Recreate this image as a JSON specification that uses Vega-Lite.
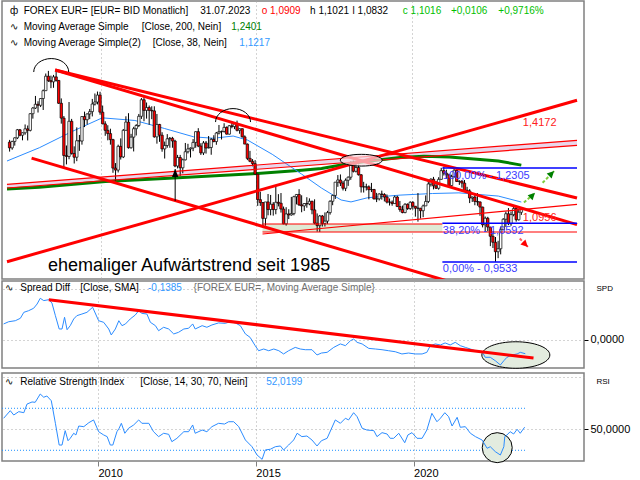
{
"$schema": "https://vega.github.io/schema/vega-lite/v6.json",
"padding": 0,
"spacing": 0,
"config": {
 "locale": {"number": {"decimal": ",", "thousands": ".", "grouping": [3], "currency": ["", " €"]}},
 "view": {"stroke": "#808080", "strokeWidth": 1.5},
 "font": "Liberation Sans",
 "axis": {"labelFont": "Liberation Sans", "labelFontSize": 11, "labelColor": "#000", "gridColor": "#a8a8a8", "gridDash": [1, 3], "gridWidth": 1, "domain": false, "tickColor": "#000"},
 "text": {"font": "Liberation Sans", "fontSize": 10, "align": "left", "baseline": "middle"}
},
"datasets": {
 "candles": [
{"t":2007.042,"o":1.32,"h":1.328,"l":1.2865,"c":1.2995},
{"t":2007.125,"o":1.2995,"h":1.325,"l":1.293,"c":1.3225},
{"t":2007.208,"o":1.3225,"h":1.3375,"l":1.3075,"c":1.3355},
{"t":2007.292,"o":1.3355,"h":1.368,"l":1.331,"c":1.365},
{"t":2007.375,"o":1.365,"h":1.368,"l":1.341,"c":1.345},
{"t":2007.458,"o":1.345,"h":1.355,"l":1.3265,"c":1.354},
{"t":2007.542,"o":1.354,"h":1.385,"l":1.347,"c":1.3685},
{"t":2007.625,"o":1.3685,"h":1.381,"l":1.326,"c":1.363},
{"t":2007.708,"o":1.363,"h":1.428,"l":1.359,"c":1.426},
{"t":2007.792,"o":1.426,"h":1.452,"l":1.407,"c":1.448},
{"t":2007.875,"o":1.448,"h":1.4965,"l":1.4445,"c":1.463},
{"t":2007.958,"o":1.463,"h":1.475,"l":1.4305,"c":1.459},
{"t":2008.042,"o":1.459,"h":1.488,"l":1.452,"c":1.486},
{"t":2008.125,"o":1.486,"h":1.523,"l":1.4405,"c":1.518},
{"t":2008.208,"o":1.518,"h":1.5905,"l":1.517,"c":1.579},
{"t":2008.292,"o":1.579,"h":1.602,"l":1.5545,"c":1.56},
{"t":2008.375,"o":1.56,"h":1.5815,"l":1.5285,"c":1.555},
{"t":2008.458,"o":1.555,"h":1.5845,"l":1.53,"c":1.576},
{"t":2008.542,"o":1.576,"h":1.604,"l":1.556,"c":1.561},
{"t":2008.625,"o":1.561,"h":1.562,"l":1.4645,"c":1.467},
{"t":2008.708,"o":1.467,"h":1.4865,"l":1.388,"c":1.409},
{"t":2008.792,"o":1.409,"h":1.417,"l":1.233,"c":1.273},
{"t":2008.875,"o":1.273,"h":1.308,"l":1.2425,"c":1.2695},
{"t":2008.958,"o":1.2695,"h":1.472,"l":1.26,"c":1.397},
{"t":2009.042,"o":1.397,"h":1.406,"l":1.276,"c":1.28},
{"t":2009.125,"o":1.28,"h":1.305,"l":1.2455,"c":1.267},
{"t":2009.208,"o":1.267,"h":1.374,"l":1.2535,"c":1.325},
{"t":2009.292,"o":1.325,"h":1.346,"l":1.289,"c":1.324},
{"t":2009.375,"o":1.324,"h":1.4165,"l":1.311,"c":1.415},
{"t":2009.458,"o":1.415,"h":1.434,"l":1.375,"c":1.403},
{"t":2009.542,"o":1.403,"h":1.4275,"l":1.385,"c":1.425},
{"t":2009.625,"o":1.425,"h":1.4445,"l":1.405,"c":1.434},
{"t":2009.708,"o":1.434,"h":1.4845,"l":1.4155,"c":1.464},
{"t":2009.792,"o":1.464,"h":1.5065,"l":1.458,"c":1.472},
{"t":2009.875,"o":1.472,"h":1.5145,"l":1.4625,"c":1.5},
{"t":2009.958,"o":1.5,"h":1.5135,"l":1.422,"c":1.432},
{"t":2010.042,"o":1.432,"h":1.458,"l":1.386,"c":1.387},
{"t":2010.125,"o":1.387,"h":1.397,"l":1.343,"c":1.363},
{"t":2010.208,"o":1.363,"h":1.382,"l":1.3265,"c":1.351},
{"t":2010.292,"o":1.351,"h":1.369,"l":1.311,"c":1.329},
{"t":2010.375,"o":1.329,"h":1.332,"l":1.2145,"c":1.23},
{"t":2010.458,"o":1.23,"h":1.247,"l":1.1875,"c":1.2235},
{"t":2010.542,"o":1.2235,"h":1.311,"l":1.2155,"c":1.305},
{"t":2010.625,"o":1.305,"h":1.3335,"l":1.259,"c":1.268},
{"t":2010.708,"o":1.268,"h":1.368,"l":1.264,"c":1.363},
{"t":2010.792,"o":1.363,"h":1.416,"l":1.363,"c":1.394},
{"t":2010.875,"o":1.394,"h":1.428,"l":1.297,"c":1.3},
{"t":2010.958,"o":1.3,"h":1.35,"l":1.297,"c":1.338},
{"t":2011.042,"o":1.338,"h":1.376,"l":1.287,"c":1.369},
{"t":2011.125,"o":1.369,"h":1.386,"l":1.344,"c":1.381},
{"t":2011.208,"o":1.381,"h":1.425,"l":1.375,"c":1.416},
{"t":2011.292,"o":1.416,"h":1.488,"l":1.406,"c":1.481},
{"t":2011.375,"o":1.481,"h":1.494,"l":1.397,"c":1.439},
{"t":2011.458,"o":1.439,"h":1.47,"l":1.407,"c":1.45},
{"t":2011.542,"o":1.45,"h":1.458,"l":1.384,"c":1.439},
{"t":2011.625,"o":1.439,"h":1.455,"l":1.405,"c":1.437},
{"t":2011.708,"o":1.437,"h":1.455,"l":1.336,"c":1.339},
{"t":2011.792,"o":1.339,"h":1.425,"l":1.3145,"c":1.385},
{"t":2011.875,"o":1.385,"h":1.387,"l":1.321,"c":1.345},
{"t":2011.958,"o":1.345,"h":1.356,"l":1.286,"c":1.296},
{"t":2012.042,"o":1.296,"h":1.322,"l":1.2625,"c":1.308},
{"t":2012.125,"o":1.308,"h":1.349,"l":1.3,"c":1.332},
{"t":2012.208,"o":1.332,"h":1.3385,"l":1.3,"c":1.334},
{"t":2012.292,"o":1.334,"h":1.339,"l":1.3,"c":1.324},
{"t":2012.375,"o":1.324,"h":1.3285,"l":1.233,"c":1.237},
{"t":2012.458,"o":1.237,"h":1.275,"l":1.229,"c":1.266},
{"t":2012.542,"o":1.266,"h":1.275,"l":1.204,"c":1.231},
{"t":2012.625,"o":1.231,"h":1.2625,"l":1.213,"c":1.258},
{"t":2012.708,"o":1.258,"h":1.317,"l":1.256,"c":1.286},
{"t":2012.792,"o":1.286,"h":1.314,"l":1.28,"c":1.296},
{"t":2012.875,"o":1.296,"h":1.301,"l":1.266,"c":1.299},
{"t":2012.958,"o":1.299,"h":1.331,"l":1.288,"c":1.319},
{"t":2013.042,"o":1.319,"h":1.359,"l":1.3,"c":1.358},
{"t":2013.125,"o":1.358,"h":1.371,"l":1.302,"c":1.306},
{"t":2013.208,"o":1.306,"h":1.316,"l":1.275,"c":1.282},
{"t":2013.292,"o":1.282,"h":1.324,"l":1.2745,"c":1.317},
{"t":2013.375,"o":1.317,"h":1.324,"l":1.2795,"c":1.299},
{"t":2013.458,"o":1.299,"h":1.342,"l":1.298,"c":1.301},
{"t":2013.542,"o":1.301,"h":1.3345,"l":1.2755,"c":1.33},
{"t":2013.625,"o":1.33,"h":1.345,"l":1.3195,"c":1.322},
{"t":2013.708,"o":1.322,"h":1.357,"l":1.3105,"c":1.353},
{"t":2013.792,"o":1.353,"h":1.383,"l":1.348,"c":1.358},
{"t":2013.875,"o":1.358,"h":1.362,"l":1.3295,"c":1.359},
{"t":2013.958,"o":1.359,"h":1.3895,"l":1.3545,"c":1.374},
{"t":2014.042,"o":1.374,"h":1.3775,"l":1.3475,"c":1.349},
{"t":2014.125,"o":1.349,"h":1.3825,"l":1.3475,"c":1.38},
{"t":2014.208,"o":1.38,"h":1.3965,"l":1.3705,"c":1.377},
{"t":2014.292,"o":1.377,"h":1.3905,"l":1.3675,"c":1.387},
{"t":2014.375,"o":1.387,"h":1.3995,"l":1.359,"c":1.363},
{"t":2014.458,"o":1.363,"h":1.37,"l":1.3505,"c":1.369},
{"t":2014.542,"o":1.369,"h":1.37,"l":1.3365,"c":1.339},
{"t":2014.625,"o":1.339,"h":1.3445,"l":1.313,"c":1.313},
{"t":2014.708,"o":1.313,"h":1.315,"l":1.257,"c":1.263},
{"t":2014.792,"o":1.263,"h":1.289,"l":1.25,"c":1.253},
{"t":2014.875,"o":1.253,"h":1.2605,"l":1.236,"c":1.245},
{"t":2014.958,"o":1.245,"h":1.257,"l":1.21,"c":1.21},
{"t":2015.042,"o":1.21,"h":1.211,"l":1.11,"c":1.129},
{"t":2015.125,"o":1.129,"h":1.1535,"l":1.11,"c":1.12},
{"t":2015.208,"o":1.12,"h":1.1215,"l":1.046,"c":1.073},
{"t":2015.292,"o":1.073,"h":1.1215,"l":1.052,"c":1.122},
{"t":2015.375,"o":1.122,"h":1.1465,"l":1.082,"c":1.099},
{"t":2015.458,"o":1.099,"h":1.1435,"l":1.082,"c":1.115},
{"t":2015.542,"o":1.115,"h":1.1215,"l":1.081,"c":1.099},
{"t":2015.625,"o":1.099,"h":1.1715,"l":1.085,"c":1.121},
{"t":2015.708,"o":1.121,"h":1.146,"l":1.1085,"c":1.118},
{"t":2015.792,"o":1.118,"h":1.1495,"l":1.09,"c":1.1005},
{"t":2015.875,"o":1.1005,"h":1.108,"l":1.056,"c":1.057},
{"t":2015.958,"o":1.057,"h":1.106,"l":1.052,"c":1.086},
{"t":2016.042,"o":1.086,"h":1.1,"l":1.071,"c":1.083},
{"t":2016.125,"o":1.083,"h":1.1375,"l":1.081,"c":1.087},
{"t":2016.208,"o":1.087,"h":1.141,"l":1.082,"c":1.138},
{"t":2016.292,"o":1.138,"h":1.146,"l":1.1145,"c":1.145},
{"t":2016.375,"o":1.145,"h":1.1615,"l":1.11,"c":1.113},
{"t":2016.458,"o":1.113,"h":1.1425,"l":1.091,"c":1.11},
{"t":2016.542,"o":1.11,"h":1.1185,"l":1.095,"c":1.117},
{"t":2016.625,"o":1.117,"h":1.1365,"l":1.1045,"c":1.116},
{"t":2016.708,"o":1.116,"h":1.133,"l":1.112,"c":1.124},
{"t":2016.792,"o":1.124,"h":1.1255,"l":1.085,"c":1.098},
{"t":2016.875,"o":1.098,"h":1.13,"l":1.056,"c":1.059},
{"t":2016.958,"o":1.059,"h":1.0875,"l":1.035,"c":1.052},
{"t":2017.042,"o":1.052,"h":1.083,"l":1.034,"c":1.08},
{"t":2017.125,"o":1.08,"h":1.083,"l":1.0495,"c":1.058},
{"t":2017.208,"o":1.058,"h":1.0905,"l":1.0495,"c":1.065},
{"t":2017.292,"o":1.065,"h":1.095,"l":1.057,"c":1.09},
{"t":2017.375,"o":1.09,"h":1.127,"l":1.084,"c":1.124},
{"t":2017.458,"o":1.124,"h":1.1445,"l":1.112,"c":1.142},
{"t":2017.542,"o":1.142,"h":1.1845,"l":1.131,"c":1.184},
{"t":2017.625,"o":1.184,"h":1.207,"l":1.169,"c":1.191},
{"t":2017.708,"o":1.191,"h":1.209,"l":1.1715,"c":1.181},
{"t":2017.792,"o":1.181,"h":1.188,"l":1.1575,"c":1.1645},
{"t":2017.875,"o":1.1645,"h":1.196,"l":1.1555,"c":1.19},
{"t":2017.958,"o":1.19,"h":1.2025,"l":1.172,"c":1.2},
{"t":2018.042,"o":1.2,"h":1.2535,"l":1.1915,"c":1.241},
{"t":2018.125,"o":1.241,"h":1.2555,"l":1.2155,"c":1.2195},
{"t":2018.208,"o":1.2195,"h":1.2475,"l":1.2155,"c":1.232},
{"t":2018.292,"o":1.232,"h":1.2415,"l":1.2055,"c":1.208},
{"t":2018.375,"o":1.208,"h":1.21,"l":1.151,"c":1.169},
{"t":2018.458,"o":1.169,"h":1.185,"l":1.151,"c":1.1685},
{"t":2018.542,"o":1.1685,"h":1.179,"l":1.1575,"c":1.169},
{"t":2018.625,"o":1.169,"h":1.1735,"l":1.13,"c":1.16},
{"t":2018.708,"o":1.16,"h":1.1815,"l":1.1525,"c":1.1605},
{"t":2018.792,"o":1.1605,"h":1.1625,"l":1.13,"c":1.131},
{"t":2018.875,"o":1.131,"h":1.15,"l":1.1215,"c":1.1315},
{"t":2018.958,"o":1.1315,"h":1.1485,"l":1.1265,"c":1.1465},
{"t":2019.042,"o":1.1465,"h":1.157,"l":1.129,"c":1.145},
{"t":2019.125,"o":1.145,"h":1.149,"l":1.1235,"c":1.137},
{"t":2019.208,"o":1.137,"h":1.145,"l":1.1175,"c":1.1215},
{"t":2019.292,"o":1.1215,"h":1.1325,"l":1.111,"c":1.1215},
{"t":2019.375,"o":1.1215,"h":1.1265,"l":1.1105,"c":1.117},
{"t":2019.458,"o":1.117,"h":1.1415,"l":1.1165,"c":1.137},
{"t":2019.542,"o":1.137,"h":1.141,"l":1.1075,"c":1.108},
{"t":2019.625,"o":1.108,"h":1.125,"l":1.0925,"c":1.099},
{"t":2019.708,"o":1.099,"h":1.111,"l":1.088,"c":1.09},
{"t":2019.792,"o":1.09,"h":1.118,"l":1.088,"c":1.115},
{"t":2019.875,"o":1.115,"h":1.1175,"l":1.098,"c":1.102},
{"t":2019.958,"o":1.102,"h":1.124,"l":1.098,"c":1.121},
{"t":2020.042,"o":1.121,"h":1.124,"l":1.099,"c":1.109},
{"t":2020.125,"o":1.109,"h":1.1095,"l":1.078,"c":1.103},
{"t":2020.208,"o":1.103,"h":1.1495,"l":1.0635,"c":1.103},
{"t":2020.292,"o":1.103,"h":1.104,"l":1.0725,"c":1.0955},
{"t":2020.375,"o":1.0955,"h":1.114,"l":1.0765,"c":1.11},
{"t":2020.458,"o":1.11,"h":1.142,"l":1.1095,"c":1.1235},
{"t":2020.542,"o":1.1235,"h":1.191,"l":1.1185,"c":1.178},
{"t":2020.625,"o":1.178,"h":1.1965,"l":1.17,"c":1.1935},
{"t":2020.708,"o":1.1935,"h":1.201,"l":1.161,"c":1.172},
{"t":2020.792,"o":1.172,"h":1.188,"l":1.162,"c":1.1645},
{"t":2020.875,"o":1.1645,"h":1.2,"l":1.16,"c":1.193},
{"t":2020.958,"o":1.193,"h":1.231,"l":1.192,"c":1.2215},
{"t":2021.042,"o":1.2215,"h":1.235,"l":1.2055,"c":1.2135},
{"t":2021.125,"o":1.2135,"h":1.2245,"l":1.195,"c":1.2075},
{"t":2021.208,"o":1.2075,"h":1.2115,"l":1.1705,"c":1.173},
{"t":2021.292,"o":1.173,"h":1.208,"l":1.1705,"c":1.202},
{"t":2021.375,"o":1.202,"h":1.2265,"l":1.1985,"c":1.223},
{"t":2021.458,"o":1.223,"h":1.2255,"l":1.1845,"c":1.186},
{"t":2021.542,"o":1.186,"h":1.19,"l":1.175,"c":1.187},
{"t":2021.625,"o":1.187,"h":1.191,"l":1.1665,"c":1.181},
{"t":2021.708,"o":1.181,"h":1.191,"l":1.1565,"c":1.158},
{"t":2021.792,"o":1.158,"h":1.169,"l":1.1525,"c":1.156},
{"t":2021.875,"o":1.156,"h":1.1615,"l":1.1185,"c":1.134},
{"t":2021.958,"o":1.134,"h":1.1385,"l":1.122,"c":1.137},
{"t":2022.042,"o":1.137,"h":1.1485,"l":1.112,"c":1.1235},
{"t":2022.125,"o":1.1235,"h":1.1495,"l":1.1105,"c":1.122},
{"t":2022.208,"o":1.122,"h":1.1235,"l":1.0805,"c":1.1065},
{"t":2022.292,"o":1.1065,"h":1.1075,"l":1.047,"c":1.0545},
{"t":2022.375,"o":1.0545,"h":1.0785,"l":1.035,"c":1.0735},
{"t":2022.458,"o":1.0735,"h":1.0775,"l":1.036,"c":1.048},
{"t":2022.542,"o":1.048,"h":1.0485,"l":0.995,"c":1.022},
{"t":2022.625,"o":1.022,"h":1.037,"l":0.99,"c":1.0055},
{"t":2022.708,"o":1.0055,"h":1.02,"l":0.9535,"c":0.98},
{"t":2022.792,"o":0.98,"h":1.0095,"l":0.963,"c":0.988},
{"t":2022.875,"o":0.988,"h":1.0495,"l":0.973,"c":1.0405},
{"t":2022.958,"o":1.0405,"h":1.0735,"l":1.039,"c":1.0705},
{"t":2023.042,"o":1.0705,"h":1.093,"l":1.048,"c":1.0865},
{"t":2023.125,"o":1.0865,"h":1.1035,"l":1.0535,"c":1.0575},
{"t":2023.208,"o":1.0575,"h":1.093,"l":1.0515,"c":1.084},
{"t":2023.292,"o":1.084,"h":1.1095,"l":1.079,"c":1.102},
{"t":2023.375,"o":1.102,"h":1.109,"l":1.0635,"c":1.069},
{"t":2023.458,"o":1.069,"h":1.101,"l":1.0665,"c":1.091},
{"t":2023.542,"o":1.0909,"h":1.1021,"l":1.0832,"c":1.1016}
 ],
 "sma200": [
{"t":2006.958,"v":1.162},{"t":2008.0,"v":1.168},{"t":2010.13,"v":1.186},{"t":2012.03,"v":1.196},{"t":2014.88,"v":1.211},{"t":2016.46,"v":1.223},{"t":2017.1,"v":1.229},{"t":2018.05,"v":1.246},{"t":2019.63,"v":1.266},{"t":2020.4,"v":1.27},{"t":2021.22,"v":1.268},{"t":2022.8,"v":1.254},{"t":2023.54,"v":1.2401}
 ],
 "sma38": [
{"t":2006.958,"v":1.254},{"t":2008.0,"v":1.3},{"t":2009.08,"v":1.36},{"t":2010.03,"v":1.41},{"t":2011.08,"v":1.4},{"t":2012.03,"v":1.37},{"t":2012.98,"v":1.339},{"t":2013.61,"v":1.334},{"t":2014.25,"v":1.342},{"t":2014.72,"v":1.327},{"t":2015.51,"v":1.277},{"t":2016.46,"v":1.21},{"t":2017.1,"v":1.165},{"t":2017.73,"v":1.128},{"t":2018.05,"v":1.122},{"t":2018.59,"v":1.135},{"t":2019.63,"v":1.143},{"t":2020.68,"v":1.148},{"t":2021.53,"v":1.15},{"t":2022.8,"v":1.14},{"t":2023.54,"v":1.1217}
 ],
 "thick": [
{"id":"A","t":2008.511,"v":1.606},{"id":"A","t":2025.336,"v":1.134},
{"id":"B","t":2008.511,"v":1.606},{"id":"B","t":2025.336,"v":1.055},
{"id":"C","t":2007.75,"v":1.264},{"id":"C","t":2022.167,"v":0.8826},
{"id":"D","t":2006.958,"v":0.9538},{"id":"D","t":2025.336,"v":1.479}
 ],
 "thin": [
{"id":"E","t":2015.196,"v":1.0284},{"id":"E","t":2025.336,"v":1.1148},
{"id":"P1","t":2006.958,"v":1.177},{"id":"P1","t":2025.336,"v":1.3266},
{"id":"P2","t":2006.958,"v":1.1653},{"id":"P2","t":2025.336,"v":1.3087},
{"id":"RT","t":2015.196,"v":1.0567},{"id":"RT","t":2020.995,"v":1.0567},
{"id":"RB","t":2015.196,"v":1.034},{"id":"RB","t":2025.336,"v":1.034}
 ],
 "fib": [
{"id":"f1","t":2020.995,"v":1.2305},{"id":"f1","t":2025.336,"v":1.2305},
{"id":"f2","t":2020.995,"v":1.0592},{"id":"f2","t":2025.336,"v":1.0592},
{"id":"f3","t":2020.995,"v":0.9533},{"id":"f3","t":2025.336,"v":0.9533}
 ],
 "spread": [
{"t":2007.01,"v":0.156},{"t":2007.17,"v":0.178},{"t":2007.38,"v":0.188},{"t":2007.54,"v":0.212},{"t":2007.65,"v":0.271},{"t":2007.8,"v":0.287},{"t":2007.96,"v":0.311},{"t":2008.07,"v":0.353},{"t":2008.17,"v":0.41},{"t":2008.28,"v":0.387},{"t":2008.44,"v":0.396},{"t":2008.54,"v":0.363},{"t":2008.65,"v":0.238},{"t":2008.77,"v":0.106},{"t":2008.86,"v":0.106},{"t":2008.94,"v":0.222},{"t":2009.02,"v":0.099},{"t":2009.12,"v":0.139},{"t":2009.23,"v":0.205},{"t":2009.33,"v":0.238},{"t":2009.49,"v":0.254},{"t":2009.65,"v":0.271},{"t":2009.83,"v":0.321},{"t":2010.02,"v":0.188},{"t":2010.18,"v":0.172},{"t":2010.34,"v":0.106},{"t":2010.42,"v":0.047},{"t":2010.55,"v":0.106},{"t":2010.66,"v":0.188},{"t":2010.76,"v":0.139},{"t":2010.87,"v":0.156},{"t":2011.02,"v":0.205},{"t":2011.18,"v":0.244},{"t":2011.29,"v":0.287},{"t":2011.39,"v":0.261},{"t":2011.55,"v":0.254},{"t":2011.66,"v":0.172},{"t":2011.82,"v":0.139},{"t":2011.92,"v":0.089},{"t":2012.08,"v":0.123},{"t":2012.24,"v":0.106},{"t":2012.4,"v":0.057},{"t":2012.55,"v":0.073},{"t":2012.72,"v":0.106},{"t":2012.87,"v":0.113},{"t":2013.0,"v":0.156},{"t":2013.08,"v":0.106},{"t":2013.3,"v":0.139},{"t":2013.45,"v":0.123},{"t":2013.61,"v":0.146},{"t":2013.82,"v":0.166},{"t":2014.03,"v":0.162},{"t":2014.19,"v":0.178},{"t":2014.35,"v":0.166},{"t":2014.51,"v":0.139},{"t":2014.67,"v":0.057},{"t":2014.82,"v":0.023},{"t":2014.98,"v":-0.059},{"t":2015.09,"v":-0.109},{"t":2015.25,"v":-0.092},{"t":2015.41,"v":-0.109},{"t":2015.57,"v":-0.092},{"t":2015.73,"v":-0.109},{"t":2015.88,"v":-0.141},{"t":2016.04,"v":-0.109},{"t":2016.25,"v":-0.076},{"t":2016.41,"v":-0.092},{"t":2016.57,"v":-0.099},{"t":2016.78,"v":-0.099},{"t":2016.94,"v":-0.151},{"t":2017.08,"v":-0.132},{"t":2017.26,"v":-0.125},{"t":2017.47,"v":-0.076},{"t":2017.68,"v":-0.042},{"t":2017.84,"v":-0.059},{"t":2018.0,"v":-0.01},{"t":2018.1,"v":0.007},{"t":2018.21,"v":-0.026},{"t":2018.37,"v":-0.042},{"t":2018.58,"v":-0.086},{"t":2018.79,"v":-0.092},{"t":2019.0,"v":-0.099},{"t":2019.21,"v":-0.109},{"t":2019.42,"v":-0.119},{"t":2019.63,"v":-0.141},{"t":2019.84,"v":-0.132},{"t":2020.05,"v":-0.141},{"t":2020.27,"v":-0.141},{"t":2020.42,"v":-0.125},{"t":2020.53,"v":-0.059},{"t":2020.69,"v":-0.042},{"t":2020.85,"v":-0.052},{"t":2021.0,"v":-0.032},{"t":2021.16,"v":-0.052},{"t":2021.32,"v":-0.026},{"t":2021.48,"v":-0.059},{"t":2021.64,"v":-0.076},{"t":2021.8,"v":-0.092},{"t":2021.96,"v":-0.109},{"t":2022.17,"v":-0.119},{"t":2022.27,"v":-0.174},{"t":2022.43,"v":-0.174},{"t":2022.59,"v":-0.208},{"t":2022.75,"v":-0.25},{"t":2022.86,"v":-0.208},{"t":2022.96,"v":-0.174},{"t":2023.12,"v":-0.151},{"t":2023.28,"v":-0.141},{"t":2023.38,"v":-0.125},{"t":2023.54,"v":-0.1385}
 ],
 "rsi": [
{"t":2007.01,"v":60.5},{"t":2007.22,"v":67.7},{"t":2007.33,"v":63.6},{"t":2007.49,"v":66.8},{"t":2007.65,"v":65.8},{"t":2007.75,"v":74},{"t":2007.91,"v":76},{"t":2008.01,"v":75.7},{"t":2008.17,"v":83.6},{"t":2008.28,"v":80.5},{"t":2008.38,"v":81.7},{"t":2008.52,"v":77.2},{"t":2008.65,"v":55.7},{"t":2008.77,"v":35},{"t":2008.86,"v":35},{"t":2008.96,"v":48.7},{"t":2009.05,"v":39.1},{"t":2009.12,"v":41.4},{"t":2009.23,"v":46.2},{"t":2009.3,"v":44.6},{"t":2009.39,"v":53.1},{"t":2009.55,"v":52.5},{"t":2009.71,"v":56.3},{"t":2009.86,"v":58.9},{"t":2010.02,"v":47.7},{"t":2010.18,"v":44.6},{"t":2010.29,"v":43},{"t":2010.39,"v":35},{"t":2010.47,"v":35},{"t":2010.6,"v":47.7},{"t":2010.67,"v":51},{"t":2010.74,"v":55.7},{"t":2010.85,"v":46.2},{"t":2010.97,"v":51},{"t":2011.13,"v":54.1},{"t":2011.29,"v":58.9},{"t":2011.39,"v":55.7},{"t":2011.61,"v":55.7},{"t":2011.76,"v":47.7},{"t":2011.92,"v":43},{"t":2012.08,"v":46.2},{"t":2012.24,"v":45.2},{"t":2012.34,"v":38.2},{"t":2012.5,"v":41.4},{"t":2012.72,"v":47.7},{"t":2012.87,"v":47.7},{"t":2013.0,"v":54.1},{"t":2013.08,"v":46.2},{"t":2013.3,"v":49.3},{"t":2013.45,"v":47.7},{"t":2013.61,"v":52.5},{"t":2013.82,"v":55.7},{"t":2014.01,"v":55},{"t":2014.14,"v":57.2},{"t":2014.3,"v":57.2},{"t":2014.46,"v":52.5},{"t":2014.67,"v":39.8},{"t":2014.88,"v":33.4},{"t":2015.04,"v":25.5},{"t":2015.2,"v":21.4},{"t":2015.3,"v":30.3},{"t":2015.46,"v":31},{"t":2015.62,"v":33.4},{"t":2015.78,"v":34.1},{"t":2015.88,"v":30.3},{"t":2016.04,"v":35},{"t":2016.2,"v":39.8},{"t":2016.31,"v":46.2},{"t":2016.46,"v":43},{"t":2016.62,"v":43.6},{"t":2016.78,"v":39.8},{"t":2016.94,"v":34.1},{"t":2017.08,"v":39.1},{"t":2017.26,"v":41.4},{"t":2017.52,"v":58.9},{"t":2017.68,"v":55.7},{"t":2017.84,"v":60.5},{"t":2017.94,"v":58.9},{"t":2018.1,"v":65.8},{"t":2018.21,"v":62},{"t":2018.37,"v":51},{"t":2018.52,"v":49.3},{"t":2018.74,"v":48.7},{"t":2018.84,"v":43},{"t":2019.0,"v":46.8},{"t":2019.16,"v":45.5},{"t":2019.26,"v":41.4},{"t":2019.37,"v":41.4},{"t":2019.53,"v":46.2},{"t":2019.72,"v":37.2},{"t":2019.82,"v":44.6},{"t":2019.95,"v":46.8},{"t":2020.11,"v":41.4},{"t":2020.27,"v":41.4},{"t":2020.42,"v":49.3},{"t":2020.58,"v":65.2},{"t":2020.74,"v":57.2},{"t":2020.85,"v":60.5},{"t":2020.99,"v":65.8},{"t":2021.11,"v":62},{"t":2021.22,"v":53.1},{"t":2021.38,"v":61.4},{"t":2021.48,"v":51.9},{"t":2021.64,"v":52.5},{"t":2021.8,"v":46.2},{"t":2021.96,"v":43},{"t":2022.17,"v":39.8},{"t":2022.33,"v":31.9},{"t":2022.43,"v":33.4},{"t":2022.59,"v":28.7},{"t":2022.75,"v":25.5},{"t":2022.86,"v":33.4},{"t":2022.89,"v":43},{"t":2022.96,"v":44.6},{"t":2023.06,"v":47.7},{"t":2023.17,"v":45.5},{"t":2023.28,"v":50},{"t":2023.38,"v":46.2},{"t":2023.52,"v":52.02}
 ]
},
"vconcat": [
{
 "width": 582, "height": 278,
 "encoding": {
  "x": {"field": "t", "type": "quantitative", "title": null, "scale": {"domain": [2006.958, 2025.4], "nice": false, "zero": false}, "axis": {"values": [2010, 2015, 2020], "labels": false, "ticks": false, "tickSize": 0, "labelPadding": 0, "minExtent": 0, "maxExtent": 0, "domain": false, "grid": true, "title": null}},
  "y": {"field": "v", "type": "quantitative", "title": null, "scale": {"type": "log", "domain": [0.91, 1.937], "nice": false}, "axis": {"orient": "right", "values": [1, 1.2, 1.4, 1.6, 1.8], "format": ".4f", "tickSize": 4, "labelPadding": 2, "grid": true, "title": "$", "titleAngle": 0, "titleAlign": "left", "titleBaseline": "middle", "titleX": 14, "titleY": 10, "titleFontSize": 9, "titleFontWeight": "normal", "titleColor": "#000"}}
 },
 "layer": [
  {"data": {"values": [{"t": 2006.958, "v": 1.1653, "v2": 1.177}, {"t": 2025.336, "v": 1.3087, "v2": 1.3266}]}, "mark": {"type": "area", "color": "#ead6ea"}, "encoding": {"y2": {"field": "v2"}}},
  {"data": {"values": [{"t": 2015.196, "t2": 2020.995, "v": 1.034, "v2": 1.0567}]}, "mark": {"type": "rect", "color": "#dfead5"}, "encoding": {"x2": {"field": "t2"}, "y2": {"field": "v2"}}},
  {"data": {"name": "sma200"}, "mark": {"type": "line", "color": "#008000", "strokeWidth": 3}},
  {"data": {"name": "sma38"}, "mark": {"type": "line", "color": "#2b8cff", "strokeWidth": 1}},
  {"data": {"name": "candles"}, "mark": {"type": "rule", "color": "#000", "strokeWidth": 1},
   "encoding": {"y": {"field": "l", "type": "quantitative", "title": null, "axis": null, "scale": {"type": "log", "domain": [0.91, 1.937], "nice": false}}, "y2": {"field": "h"}}},
  {"data": {"name": "candles"}, "mark": {"type": "bar", "width": 2.4, "stroke": "#000", "strokeWidth": 0.7},
   "encoding": {"y": {"field": "o", "type": "quantitative", "title": null, "axis": null, "scale": {"type": "log", "domain": [0.91, 1.937], "nice": false}}, "y2": {"field": "c"},
    "fill": {"condition": {"test": "datum.c >= datum.o", "value": "#ffffff"}, "value": "#ff0000"}}},
  {"data": {"name": "thin"}, "mark": {"type": "line", "color": "#ff0000", "strokeWidth": 1.2, "clip": true}, "encoding": {"detail": {"field": "id"}}},
  {"data": {"name": "thick"}, "mark": {"type": "line", "color": "#ff0000", "strokeWidth": 3, "clip": true}, "encoding": {"detail": {"field": "id"}}},
  {"data": {"name": "fib"}, "mark": {"type": "line", "color": "#0000ff", "strokeWidth": 1.5}, "encoding": {"detail": {"field": "id"}}},
  {"data": {"values": [{"t": 2008.384, "v": 1.597}, {"t": 2014.246, "v": 1.394}]}, "mark": {"type": "point", "shape": "M -1 0 A 1 0.77 0 0 1 1 0", "size": 1225, "filled": false, "stroke": "#000", "strokeWidth": 1, "opacity": 1}},
  {"data": {"values": [{"t": 2018.38, "v": 1.2567}]}, "mark": {"type": "point", "shape": "M -1 0 A 1 0.28 0 1 0 1 0 A 1 0.28 0 1 0 -1 0 Z", "size": 1764, "filled": true, "fill": "#f9dde4", "fillOpacity": 0.7, "stroke": "#000", "strokeWidth": 1, "opacity": 1}},
  {"data": {"values": [{"t": 2012.38, "v": 1.125, "v2": 1.227}]}, "mark": {"type": "rule", "color": "#000", "strokeWidth": 1}, "encoding": {"y2": {"field": "v2"}}},
  {"data": {"values": [{"t": 2012.38, "v": 1.227}]}, "mark": {"type": "point", "shape": "M 0 0 L -0.4 1 L 0.4 1 Z", "size": 256, "filled": true, "color": "#000", "opacity": 1}},
  {"data": {"values": [{"t": 2024.227, "v": 1.182, "t2": 2024.598, "v2": 1.22}, {"t": 2023.625, "v": 1.12, "t2": 2023.983, "v2": 1.15}]}, "mark": {"type": "rule", "color": "#7ccd3c", "strokeWidth": 2, "strokeDash": [3, 2]}, "encoding": {"x2": {"field": "t2"}, "y2": {"field": "v2"}}},
  {"data": {"values": [{"t": 2024.598, "v": 1.22}, {"t": 2023.983, "v": 1.15}]}, "mark": {"type": "point", "shape": "M 0 0 L -0.5 1 L 0.5 1 Z", "size": 196, "angle": 45, "filled": true, "color": "#008000", "opacity": 1}},
  {"data": {"values": [{"t": 2023.489, "v": 1.016, "t2": 2023.752, "v2": 0.993}]}, "mark": {"type": "rule", "color": "#ff6060", "strokeWidth": 2, "strokeDash": [3, 2]}, "encoding": {"x2": {"field": "t2"}, "y2": {"field": "v2"}}},
  {"data": {"values": [{"t": 2023.752, "v": 0.993}]}, "mark": {"type": "point", "shape": "M 0 0 L -0.5 1 L 0.5 1 Z", "size": 196, "angle": 135, "filled": true, "color": "#ff0000", "opacity": 1}},
  {"data": {"values": [
    {"t": 2007.053, "v": 1.885, "s": "ф"},
    {"t": 2007.497, "v": 1.885, "s": "FOREX EUR= [EUR= BID Monatlich]"},
    {"t": 2013.19, "v": 1.885, "s": "31.07.2023"},
    {"t": 2016.73, "v": 1.885, "s": "h 1,1021"},
    {"t": 2018.1, "v": 1.885, "s": "l 1,0832"},
    {"t": 2007.053, "v": 1.805, "s": "∿"},
    {"t": 2007.497, "v": 1.805, "s": "Moving Average Simple"},
    {"t": 2011.3, "v": 1.805, "s": "[Close, 200, Nein]"},
    {"t": 2007.053, "v": 1.728, "s": "∿"},
    {"t": 2007.497, "v": 1.728, "s": "Moving Average Simple(2)"},
    {"t": 2011.66, "v": 1.728, "s": "[Close, 38, Nein]"}
   ]}, "mark": {"type": "text", "color": "#000"}, "encoding": {"text": {"field": "s"}}},
  {"data": {"values": [{"t": 2015.17, "v": 1.885, "s": "o 1,0909"}]}, "mark": {"type": "text", "color": "#ff0000"}, "encoding": {"text": {"field": "s"}}},
  {"data": {"values": [{"t": 2019.72, "v": 1.885, "s": "c 1,1016"}, {"t": 2021.27, "v": 1.885, "s": "+0,0106"}, {"t": 2022.8, "v": 1.885, "s": "+0,9716%"}]}, "mark": {"type": "text", "color": "#00c000"}, "encoding": {"text": {"field": "s"}}},
  {"data": {"values": [{"t": 2014.19, "v": 1.805, "s": "1,2401"}]}, "mark": {"type": "text", "color": "#008000"}, "encoding": {"text": {"field": "s"}}},
  {"data": {"values": [{"t": 2014.45, "v": 1.728, "s": "1,1217"}]}, "mark": {"type": "text", "color": "#3399ff"}, "encoding": {"text": {"field": "s"}}},
  {"data": {"values": [{"t": 2021.01, "v": 1.204, "s": "100,00% - 1,2305"}, {"t": 2021.01, "v": 1.0368, "s": "38,20% - 1,0592"}, {"t": 2021.01, "v": 0.9343, "s": "0,00% - 0,9533"}]}, "mark": {"type": "text", "color": "#3b3bff", "fontSize": 11}, "encoding": {"text": {"field": "s"}}},
  {"data": {"values": [{"t": 2023.59, "v": 1.3915, "s": "1,4172"}, {"t": 2023.59, "v": 1.075, "s": "1,0956"}]}, "mark": {"type": "text", "color": "#ff2020", "fontSize": 11}, "encoding": {"text": {"field": "s"}}},
  {"data": {"values": [{"t": 2008.28, "v": 0.9427, "s": "ehemaliger Aufwärtstrend seit 1985"}]}, "mark": {"type": "text", "color": "#000", "fontSize": 18}, "encoding": {"text": {"field": "s"}}}
 ]
},
{
 "width": 582, "height": 87,
 "encoding": {
  "x": {"field": "t", "type": "quantitative", "title": null, "scale": {"domain": [2006.958, 2025.4], "nice": false, "zero": false}, "axis": {"values": [2010, 2015, 2020], "labels": false, "ticks": false, "tickSize": 0, "labelPadding": 0, "minExtent": 0, "maxExtent": 0, "domain": false, "grid": true, "title": null}},
  "y": {"field": "v", "type": "quantitative", "title": null, "scale": {"domain": [-0.28, 0.581], "nice": false, "zero": false}, "axis": {"orient": "right", "values": [0, 0.5], "format": ".4f", "labelExpr": "datum.value == 0 ? datum.label : ''", "tickSize": 4, "tickOpacity": {"condition": {"test": "datum.value == 0", "value": 1}, "value": 0}, "labelPadding": 2, "grid": true, "title": "SPD", "titleAngle": 0, "titleAlign": "left", "titleBaseline": "middle", "titleX": 12, "titleY": 7, "titleFontSize": 8, "titleFontWeight": "normal", "titleColor": "#000"}}
 },
 "layer": [
  {"data": {"values": [{"t": 2023.24, "v": -0.1515}]}, "mark": {"type": "point", "shape": "M -1 0 A 1 0.39 0 1 0 1 0 A 1 0.39 0 1 0 -1 0 Z", "size": 4624, "filled": true, "fill": "#e3ecdf", "stroke": "#000", "strokeWidth": 1, "opacity": 1}},
  {"data": {"name": "spread"}, "mark": {"type": "line", "color": "#2b8cff", "strokeWidth": 1}},
  {"data": {"values": [{"t": 2008.44, "v": 0.396}, {"t": 2023.8, "v": -0.181}]}, "mark": {"type": "line", "color": "#ff0000", "strokeWidth": 3}},
  {"data": {"values": [{"t": 2007.053, "v": 0.509, "s": "∿"}, {"t": 2007.538, "v": 0.509, "s": "Spread Diff"}, {"t": 2009.44, "v": 0.509, "s": "[Close, SMA]"}]}, "mark": {"type": "text", "color": "#000"}, "encoding": {"text": {"field": "s"}}},
  {"data": {"values": [{"t": 2011.584, "v": 0.509, "s": "-0,1385"}]}, "mark": {"type": "text", "color": "#3399ff"}, "encoding": {"text": {"field": "s"}}},
  {"data": {"values": [{"t": 2013.03, "v": 0.509, "s": "{FOREX EUR=, Moving Average Simple}"}]}, "mark": {"type": "text", "color": "#707070"}, "encoding": {"text": {"field": "s"}}}
 ]
},
{
 "width": 582, "height": 88,
 "encoding": {
  "x": {"field": "t", "type": "quantitative", "title": null, "scale": {"domain": [2006.958, 2025.4], "nice": false, "zero": false}, "axis": {"values": [2010, 2015, 2020], "format": "d", "labelAlign": "left", "tickSize": 5, "tickColor": "#808080", "labelPadding": 1, "grid": true, "domain": false, "title": null}},
  "y": {"field": "v", "type": "quantitative", "title": null, "scale": {"domain": [19.8, 103.6], "nice": false, "zero": false}, "axis": {"orient": "right", "values": [50, 100], "format": ".4f", "labelExpr": "datum.value == 50 ? datum.label : ''", "tickSize": 4, "tickOpacity": {"condition": {"test": "datum.value == 50", "value": 1}, "value": 0}, "labelPadding": 2, "grid": true, "title": "RSI", "titleAngle": 0, "titleAlign": "left", "titleBaseline": "middle", "titleX": 12, "titleY": 8, "titleFontSize": 8, "titleFontWeight": "normal", "titleColor": "#000"}}
 },
 "layer": [
  {"data": {"values": [{"t": 2006.958, "t2": 2023.54, "v": 30}, {"t": 2006.958, "t2": 2023.54, "v": 70}]}, "mark": {"type": "rule", "color": "#1e90ff", "strokeWidth": 1, "strokeDash": [1, 2]}, "encoding": {"x2": {"field": "t2"}}},
  {"data": {"values": [{"t": 2022.65, "v": 32.5}]}, "mark": {"type": "point", "shape": "circle", "size": 900, "filled": true, "fill": "#e3ecdf", "stroke": "#000", "strokeWidth": 1, "opacity": 1}},
  {"data": {"name": "rsi"}, "mark": {"type": "line", "color": "#2b8cff", "strokeWidth": 1}},
  {"data": {"values": [{"t": 2007.053, "v": 94.8, "s": "∿"}, {"t": 2007.538, "v": 94.8, "s": "Relative Strength Index"}, {"t": 2011.34, "v": 94.8, "s": "[Close, 14, 30, 70, Nein]"}]}, "mark": {"type": "text", "color": "#000"}, "encoding": {"text": {"field": "s"}}},
  {"data": {"values": [{"t": 2015.33, "v": 94.8, "s": "52,0199"}]}, "mark": {"type": "text", "color": "#3399ff"}, "encoding": {"text": {"field": "s"}}}
 ]
}
]
}
